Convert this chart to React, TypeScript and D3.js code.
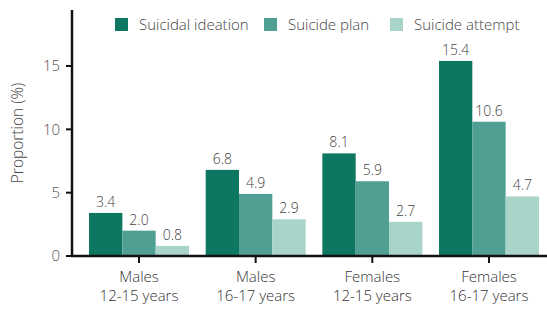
import React from "react";
import * as d3 from "d3";

const groups = ["Males|12-15 years", "Males|16-17 years", "Females|12-15 years", "Females|16-17 years"];
const seriesNames = ["Suicidal ideation", "Suicide plan", "Suicide attempt"];
const ideation = [3.4, 6.8, 8.1, 15.4];
const plan = [2.0, 4.9, 5.9, 10.6];
const attempt = [0.8, 2.9, 2.7, 4.7];
const yTicks = [0, 5, 10, 15];
const colors = ["#0e7761", "#4f9f93", "#a9d4ca"];

const W = 547;
const H = 309;
const FONT = "'Open Sans', 'Noto Sans', sans-serif";

export default function App() {
  const series = [ideation, plan, attempt];
  const left = 72;
  const baseY = 256;
  const y = d3.scaleLinear().domain([0, 15]).range([baseY, 66]);
  const x = d3.scaleBand<string>().domain(groups).range([left, 556]).paddingInner(0.143).paddingOuter(0.146);
  const sub = d3.scaleBand<string>().domain(seriesNames).range([0, x.bandwidth()]).padding(0);
  const legendX = [115, 264, 390];

  return (
    <svg width={W} height={H} style={{ position: "absolute", left: 0, top: 0, background: "#fff" }} fontFamily={FONT}>
      {/* legend */}
      {seriesNames.map((s, i) => (
        <g key={s}>
          <rect x={legendX[i]} y={18} width={13} height={13} fill={colors[i]} />
          <text x={legendX[i] + 24} y={30} fontSize={15} fontWeight={300} fill="#444">{s}</text>
        </g>
      ))}
      {/* bars */}
      {groups.map((g, gi) => (
        <g key={g} transform={`translate(${x(g)},0)`}>
          {series.map((vals, si) => {
            const v = vals[gi];
            const bx = sub(seriesNames[si])!;
            return (
              <g key={si}>
                <rect x={bx} y={y(v)} width={sub.bandwidth()} height={baseY - y(v)} fill={colors[si]} />
                <text x={bx + sub.bandwidth() / 2} y={y(v) - 6} textAnchor="middle" fontSize={14} fontWeight={300} fill="#444">{v.toFixed(1)}</text>
              </g>
            );
          })}
        </g>
      ))}
      {/* y axis */}
      <line x1={left} x2={left} y1={10} y2={baseY + 1} stroke="#111" strokeWidth={2.5} />
      {yTicks.map((t) => (
        <g key={t}>
          <line x1={left - 6} x2={left} y1={y(t)} y2={y(t)} stroke="#111" strokeWidth={2} />
          <text x={left - 12} y={y(t)} dy="0.35em" textAnchor="end" fontSize={15} fontWeight={300} fill="#555">{t}</text>
        </g>
      ))}
      <text transform={`translate(23,133) rotate(-90)`} textAnchor="middle" fontSize={15.5} fontWeight={300} fill="#444">Proportion (%)</text>
      {/* x axis */}
      <line x1={left - 1} x2={W} y1={baseY} y2={baseY} stroke="#111" strokeWidth={2.5} />
      {groups.map((g) => {
        const cx = x(g)! + x.bandwidth() / 2;
        const [l1, l2] = g.split("|");
        return (
          <g key={g}>
            <line x1={cx} x2={cx} y1={baseY} y2={baseY + 7} stroke="#111" strokeWidth={2} />
            <text x={cx} y={282} textAnchor="middle" fontSize={15} fontWeight={300} fill="#333">{l1}</text>
            <text x={cx} y={301} textAnchor="middle" fontSize={15} fontWeight={300} fill="#333">{l2}</text>
          </g>
        );
      })}
    </svg>
  );
}
